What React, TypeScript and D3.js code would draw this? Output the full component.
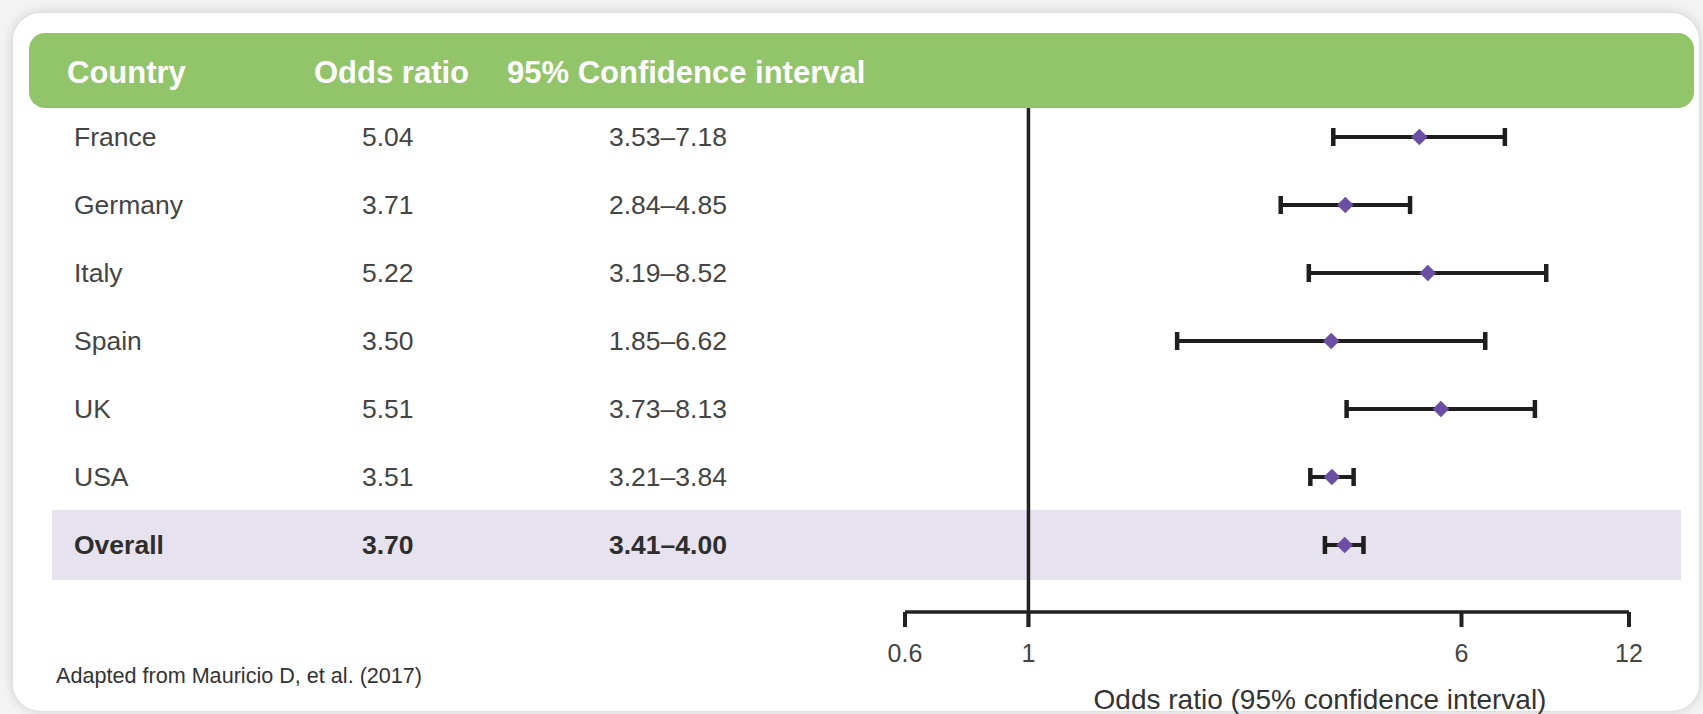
import React from "react";
import * as d3 from "d3";

const countries = ["France", "Germany", "Italy", "Spain", "UK", "USA", "Overall"];
const oddsRatio = [5.04, 3.71, 5.22, 3.5, 5.51, 3.51, 3.7];
const ciLow = [3.53, 2.84, 3.19, 1.85, 3.73, 3.21, 3.41];
const ciHigh = [7.18, 4.85, 8.52, 6.62, 8.13, 3.84, 4.0];
const oddsLabels = ["5.04", "3.71", "5.22", "3.50", "5.51", "3.51", "3.70"];
const ciLabels = ["3.53–7.18", "2.84–4.85", "3.19–8.52", "1.85–6.62", "3.73–8.13", "3.21–3.84", "3.41–4.00"];
const headers = ["Country", "Odds ratio", "95% Confidence interval"];
const tickValues = [0.6, 1, 6, 12];
const tickLabels = ["0.6", "1", "6", "12"];
const axisTitle = "Odds ratio (95% confidence interval)";
const footnote = "Adapted from Mauricio D, et al. (2017)";

const W = 1703;
const H = 714;
const FONT = "'Liberation Sans', Arial, Helvetica, sans-serif";

export default function App() {
  const x = d3.scaleLog().domain([0.6, 12]).range([905, 1629]);
  const y = d3.scalePoint<string>().domain(countries).range([137, 545]);
  const axisY = 612;
  const headerX = [67, 314, 507];
  const colX = [74, 362, 609];
  const bandH = 70;
  const overallY = y("Overall") as number;
  const diamond = d3.symbol().type(d3.symbolDiamond2).size(175)();

  return (
    <svg
      width={W}
      height={H}
      style={{ position: "absolute", left: 0, top: 0, display: "block" }}
      fontFamily={FONT}
    >
      <defs>
        <filter id="shadow" x="-5%" y="-5%" width="110%" height="110%">
          <feGaussianBlur in="SourceAlpha" stdDeviation="6" />
          <feOffset dx="0" dy="0" result="b" />
          <feComponentTransfer>
            <feFuncA type="linear" slope="0.18" />
          </feComponentTransfer>
          <feMerge>
            <feMergeNode />
            <feMergeNode in="SourceGraphic" />
          </feMerge>
        </filter>
      </defs>
      <rect x={0} y={0} width={W} height={H} fill="#f3f3f3" />
      <rect x={13} y={13} width={1686} height={698} rx={28} ry={28} fill="#ffffff" filter="url(#shadow)" />

      {/* header bar */}
      <rect x={29} y={33} width={1665} height={75} rx={16} ry={16} fill="#92c46a" />
      {headers.map((h, i) => (
        <text key={h} x={headerX[i]} y={83} fill="#ffffff" fontWeight="bold" fontSize={31}>
          {h}
        </text>
      ))}

      {/* overall band */}
      <rect x={52} y={overallY - bandH / 2} width={1629} height={bandH} fill="#e6e2ee" />

      {/* table text */}
      {countries.map((c, i) => {
        const cy = (y(c) as number) + 9;
        const bold = c === "Overall";
        const fill = bold ? "#2e2e2e" : "#444444";
        return (
          <g key={c} fontSize={26.5} fill={fill} fontWeight={bold ? "bold" : "normal"}>
            <text x={colX[0]} y={cy}>{c}</text>
            <text x={colX[1]} y={cy}>{oddsLabels[i]}</text>
            <text x={colX[2]} y={cy}>{ciLabels[i]}</text>
          </g>
        );
      })}

      {/* reference line at 1 */}
      <line x1={x(1)} x2={x(1)} y1={108} y2={axisY + 15} stroke="#222222" strokeWidth={3.5} />

      {/* axis */}
      <line x1={x(0.6)} x2={x(12)} y1={axisY} y2={axisY} stroke="#222222" strokeWidth={3.5} />
      {tickValues.map((t, i) => (
        <g key={t}>
          <line x1={x(t)} x2={x(t)} y1={axisY} y2={axisY + 15} stroke="#222222" strokeWidth={4} />
          <text x={x(t)} y={662} textAnchor="middle" fontSize={25} fill="#444444">
            {tickLabels[i]}
          </text>
        </g>
      ))}
      <text x={1320} y={709} textAnchor="middle" fontSize={28} fill="#333333">
        {axisTitle}
      </text>

      {/* error bars */}
      {countries.map((c, i) => {
        const cy = y(c) as number;
        return (
          <g key={"bar" + c} stroke="#1e1e1e">
            <line x1={x(ciLow[i])} x2={x(ciHigh[i])} y1={cy} y2={cy} strokeWidth={4} />
            <line x1={x(ciLow[i])} x2={x(ciLow[i])} y1={cy - 9} y2={cy + 9} strokeWidth={4.5} />
            <line x1={x(ciHigh[i])} x2={x(ciHigh[i])} y1={cy - 9} y2={cy + 9} strokeWidth={4.5} />
            <path d={diamond || ""} transform={`translate(${x(oddsRatio[i])},${cy})`} fill="#6a4fa3" stroke="none" />
          </g>
        );
      })}

      <text x={56} y={683} fontSize={21.6} fill="#333333">
        {footnote}
      </text>
    </svg>
  );
}
